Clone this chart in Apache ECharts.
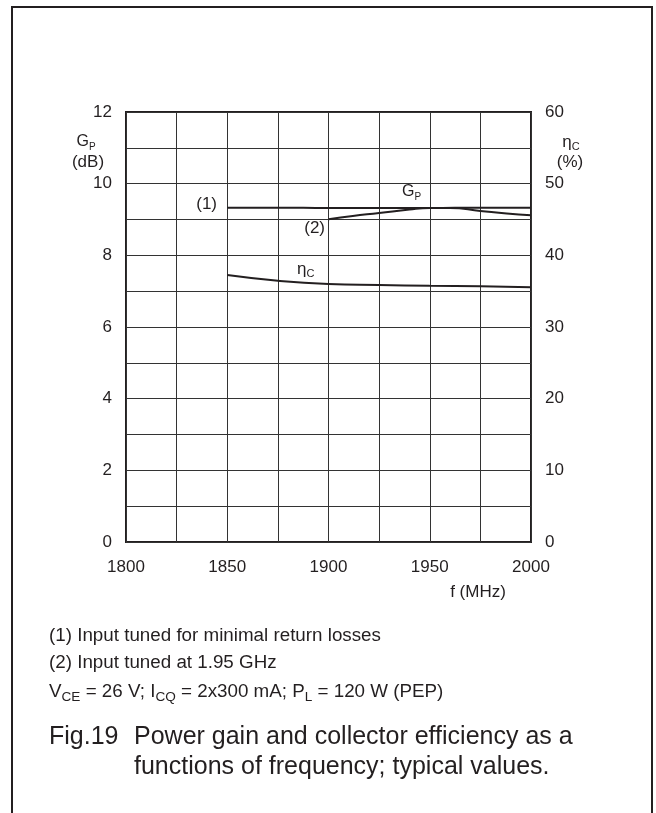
<!DOCTYPE html>
<html>
<head>
<meta charset="utf-8">
<script src="https://cdn.jsdelivr.net/npm/echarts@6/dist/echarts.min.js"></script>
<style>
html,body{margin:0;padding:0;background:#fff;}
#c{width:656px;height:813px;}
</style>
</head>
<body>
<div id="c"></div>
<script>
// Data
var freqG1 = [1850, 1875, 1900, 1925, 1950, 1975, 2000];
var gainG1 = [9.33, 9.33, 9.32, 9.32, 9.32, 9.33, 9.33];

var freqG2 = [1900, 1912, 1925, 1940, 1950, 1960, 1975, 1988, 2000];
var gainG2 = [9.01, 9.10, 9.18, 9.28, 9.32, 9.32, 9.24, 9.17, 9.12];

var freqEta = [1850, 1875, 1900, 1925, 1950, 1975, 2000];
var etaVals = [37.26, 36.46, 36.0, 35.86, 35.76, 35.68, 35.54];

var xTicks = [1800, 1850, 1900, 1950, 2000];
var gpTicks = [0, 2, 4, 6, 8, 10, 12];
var etaTicks = [0, 10, 20, 30, 40, 50, 60];

function pairs(xs, ys) { return xs.map(function (x, i) { return [x, ys[i]]; }); }

var FONT = '"Liberation Sans", Arial, Helvetica, sans-serif';
var INK = '#231f20';

var chart = echarts.init(document.getElementById('c'), null, {renderer: 'canvas'});

var lineStyle = {color: INK, width: 2};
function plain(v) { return String(v); }

var option = {
  backgroundColor: '#fff',
  animation: false,
  grid: {left: 126, right: 125, top: 112, bottom: 271, show: true, borderColor: INK, borderWidth: 2, backgroundColor: 'transparent'},
  xAxis: {
    type: 'value', min: xTicks[0], max: xTicks[xTicks.length - 1], interval: 50,
    axisLine: {show: false}, axisTick: {show: false},
    axisLabel: {color: INK, fontFamily: FONT, fontSize: 17, margin: 17, formatter: plain},
    splitLine: {show: true, lineStyle: {color: '#333', width: 1}},
    minorTick: {show: false, splitNumber: 2},
    minorSplitLine: {show: true, lineStyle: {color: '#333', width: 1}}
  },
  yAxis: [{
    type: 'value', min: gpTicks[0], max: gpTicks[gpTicks.length - 1], interval: 2,
    axisLine: {show: false}, axisTick: {show: false},
    axisLabel: {color: INK, fontFamily: FONT, fontSize: 17, margin: 14, formatter: plain},
    splitLine: {show: true, lineStyle: {color: '#333', width: 1}},
    minorTick: {show: false, splitNumber: 2},
    minorSplitLine: {show: true, lineStyle: {color: '#333', width: 1}}
  }, {
    type: 'value', position: 'right', min: etaTicks[0], max: etaTicks[etaTicks.length - 1], interval: 10,
    axisLine: {show: false}, axisTick: {show: false},
    axisLabel: {color: INK, fontFamily: FONT, fontSize: 17, margin: 14, formatter: plain},
    splitLine: {show: false}
  }],
  series: [
    {type: 'line', name: 'GP (1)', data: pairs(freqG1, gainG1), yAxisIndex: 0, smooth: true, showSymbol: false, lineStyle: lineStyle, z: 5},
    {type: 'line', name: 'GP (2)', data: pairs(freqG2, gainG2), yAxisIndex: 0, smooth: true, showSymbol: false, lineStyle: lineStyle, z: 5},
    {type: 'line', name: 'etaC', data: pairs(freqEta, etaVals), yAxisIndex: 1, smooth: true, showSymbol: false, lineStyle: lineStyle, z: 5}
  ],
  graphic: [
    {type: 'rect', shape: {x: 12, y: 7, width: 640, height: 830}, style: {fill: 'none', stroke: INK, lineWidth: 2}, silent: true},
    // left axis name
    {type: 'text', style: {x: 86, y: 142, textAlign: 'center', textVerticalAlign: 'middle', text: '{m|G}{s|P}',
      rich: {m: {fontFamily: FONT, fontSize: 16, lineHeight: 20, fill: INK}, s: {fontFamily: FONT, fontSize: 10, lineHeight: 16, verticalAlign: 'bottom', fill: INK}}}},
    {type: 'text', style: {x: 88, y: 162, textAlign: 'center', textVerticalAlign: 'middle', text: '(dB)', font: '17px ' + FONT, fill: INK}},
    // right axis name
    {type: 'text', style: {x: 571, y: 142, textAlign: 'center', textVerticalAlign: 'middle', text: '{m|η}{s|C}',
      rich: {m: {fontFamily: FONT, fontSize: 17, lineHeight: 20, fill: INK}, s: {fontFamily: FONT, fontSize: 11, lineHeight: 16, verticalAlign: 'bottom', fill: INK}}}},
    {type: 'text', style: {x: 570, y: 162, textAlign: 'center', textVerticalAlign: 'middle', text: '(%)', font: '17px ' + FONT, fill: INK}},
    // curve labels
    {type: 'text', style: {x: 217, y: 204, textAlign: 'right', textVerticalAlign: 'middle', text: '(1)', font: '17px ' + FONT, fill: INK}},
    {type: 'text', style: {x: 325, y: 228, textAlign: 'right', textVerticalAlign: 'middle', text: '(2)', font: '17px ' + FONT, fill: INK}},
    {type: 'text', style: {x: 402, y: 192, textAlign: 'left', textVerticalAlign: 'middle', text: '{m|G}{s|P}',
      rich: {m: {fontFamily: FONT, fontSize: 16, lineHeight: 20, fill: INK}, s: {fontFamily: FONT, fontSize: 10, lineHeight: 16, verticalAlign: 'bottom', fill: INK}}}},
    {type: 'text', style: {x: 297, y: 269, textAlign: 'left', textVerticalAlign: 'middle', text: '{m|η}{s|C}',
      rich: {m: {fontFamily: FONT, fontSize: 17, lineHeight: 20, fill: INK}, s: {fontFamily: FONT, fontSize: 11, lineHeight: 16, verticalAlign: 'bottom', fill: INK}}}},
    // x axis name
    {type: 'text', style: {x: 478, y: 592, textAlign: 'center', textVerticalAlign: 'middle', text: 'f (MHz)', font: '17px ' + FONT, fill: INK}},
    // footnotes
    {type: 'text', style: {x: 49, y: 636, textAlign: 'left', textVerticalAlign: 'middle', text: '(1) Input tuned for minimal return losses', font: '18.8px ' + FONT, fill: INK}},
    {type: 'text', style: {x: 49, y: 663, textAlign: 'left', textVerticalAlign: 'middle', text: '(2) Input tuned at 1.95 GHz', font: '18.8px ' + FONT, fill: INK}},
    {type: 'text', style: {x: 49, y: 692, textAlign: 'left', textVerticalAlign: 'middle',
      text: '{m|V}{s|CE}{m| = 26 V; I}{s|CQ}{m| = 2x300 mA; P}{s|L}{m| = 120 W (PEP)}',
      rich: {m: {fontFamily: FONT, fontSize: 18.8, lineHeight: 24, fill: INK}, s: {fontFamily: FONT, fontSize: 13.6, lineHeight: 17, verticalAlign: 'bottom', fill: INK}}}},
    // caption
    {type: 'text', style: {x: 49, y: 737, textAlign: 'left', textVerticalAlign: 'middle', text: 'Fig.19', font: '25px ' + FONT, fill: INK}},
    {type: 'text', style: {x: 134, y: 752, textAlign: 'left', textVerticalAlign: 'middle',
      text: 'Power gain and collector efficiency as a\nfunctions of frequency; typical values.', font: '25px ' + FONT, lineHeight: 30, fill: INK}}
  ]
};
chart.setOption(option);
</script>
</body>
</html>
